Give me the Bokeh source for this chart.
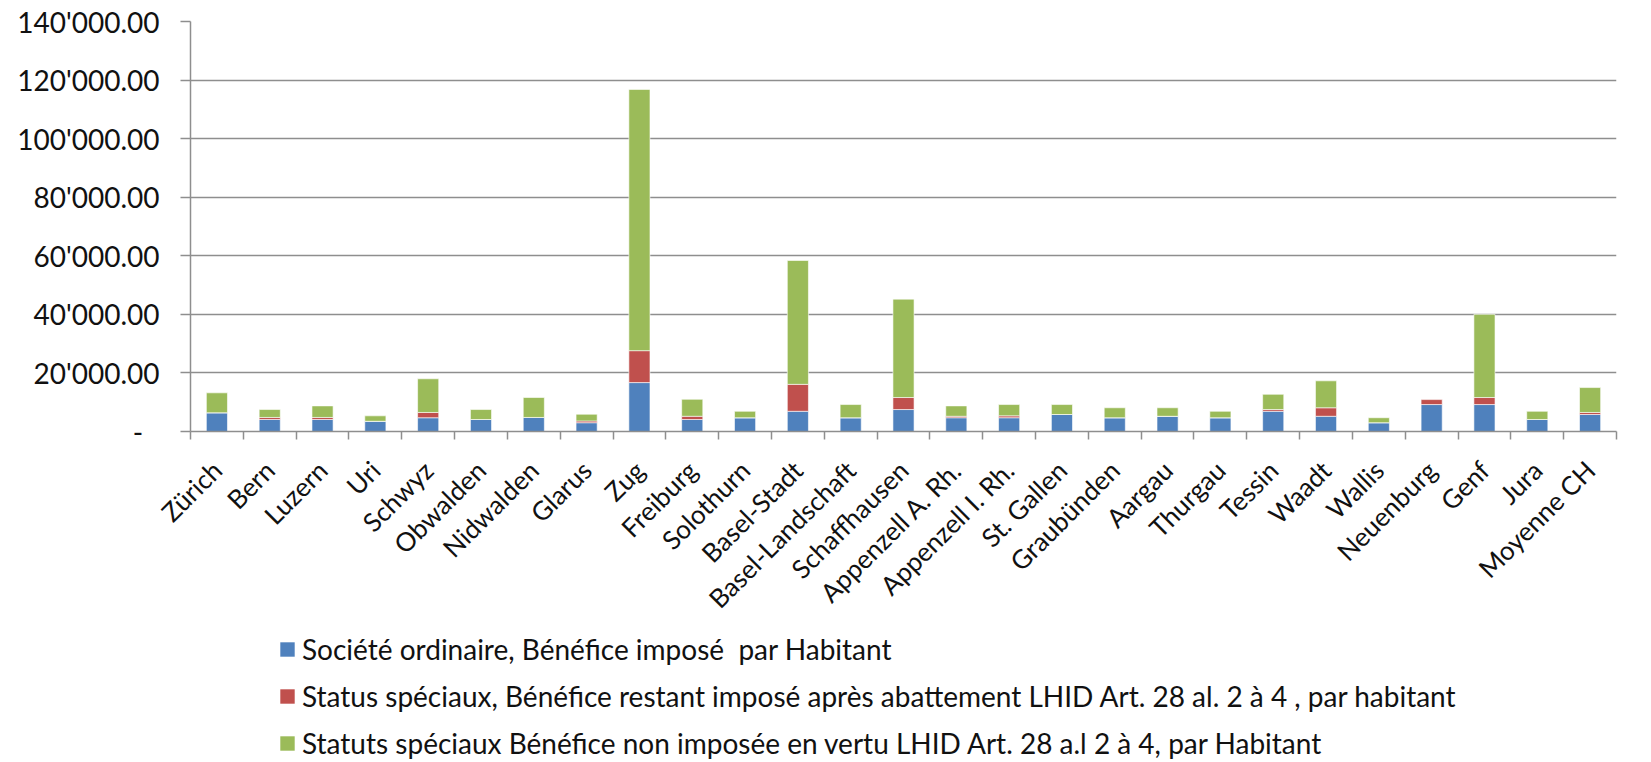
import math
from bokeh.plotting import figure
from bokeh.layouts import column
from bokeh.models import ColumnDataSource, Range1d, FixedTicker, Legend, LegendItem
from bokeh.embed import file_html
from bokeh.resources import INLINE

cantons = ["Zürich", "Bern", "Luzern", "Uri", "Schwyz", "Obwalden", "Nidwalden", "Glarus",
           "Zug", "Freiburg", "Solothurn", "Basel-Stadt", "Basel-Landschaft", "Schaffhausen",
           "Appenzell A. Rh.", "Appenzell I. Rh.", "St. Gallen", "Graubünden", "Aargau",
           "Thurgau", "Tessin", "Waadt", "Wallis", "Neuenburg", "Genf", "Jura", "Moyenne CH"]

ordinaire = [6400, 4100, 4100, 3500, 4700, 4100, 4800, 3000, 16700, 4100, 4700, 6900, 4700,
             7500, 4700, 4700, 5800, 4700, 5200, 4700, 6900, 5200, 3000, 9200, 9200, 4100, 5800]
speciaux_impose = [0, 700, 700, 0, 1800, 0, 0, 600, 10900, 1100, 0, 9200, 0,
                   4100, 500, 650, 0, 0, 0, 0, 600, 2900, 0, 1700, 2400, 0, 700]
speciaux_non_impose = [6800, 2700, 3950, 1850, 11500, 3400, 6800, 2300, 89200, 5800, 2200, 42300,
                       4500, 33600, 3550, 3850, 3400, 3400, 2900, 2200, 5200, 9200, 1700, -900,
                       28400, 2800, 8500]

series_names = [
    "Société ordinaire, Bénéfice imposé  par Habitant",
    "Status spéciaux, Bénéfice restant imposé après abattement LHID Art. 28 al. 2 à 4 , par habitant",
    "Statuts spéciaux Bénéfice non imposée en vertu LHID Art. 28 a.l 2 à 4, par Habitant",
]
series_values = [ordinaire, speciaux_impose, speciaux_non_impose]
colors = ["#4F81BD", "#C0504D", "#9BBB59"]

y_ticks = [0, 20000, 40000, 60000, 80000, 100000, 120000, 140000]

FONT = "Lato"
TXT = "#111111"
GRID = "#8e8e8e"
W = 1645

x = list(range(len(cantons)))

p = figure(width=W, height=632, output_backend="svg", toolbar_location=None,
           x_range=Range1d(-0.5, len(cantons) - 0.5), y_range=Range1d(0, 140000),
           min_border_left=190, min_border_right=W - 1616, min_border_top=21, min_border_bottom=201,
           background_fill_color="white", border_fill_color="white")
p.outline_line_color = None

# manual stacking (positive values upward, negative values downward, as in Excel)
pos = [0.0] * len(cantons)
neg = [0.0] * len(cantons)
for vals, col in zip(series_values, colors):
    bottoms, tops = [], []
    for i, v in enumerate(vals):
        if v >= 0:
            bottoms.append(pos[i]); tops.append(pos[i] + v); pos[i] += v
        else:
            tops.append(neg[i]); bottoms.append(neg[i] + v); neg[i] += v
    src = ColumnDataSource(dict(x=x, bottom=bottoms, top=tops))
    p.vbar(x="x", bottom="bottom", top="top", width=0.4, source=src,
           fill_color=col, line_color="white", line_width=0.6)

# axes
p.xgrid.visible = False
p.ygrid.ticker = FixedTicker(ticks=y_ticks)
p.ygrid.grid_line_color = GRID
p.ygrid.grid_line_width = 1.5

yax = p.yaxis[0]
yax.ticker = FixedTicker(ticks=y_ticks)
yax.major_label_overrides = {t: ("-\u2007" if t == 0 else f"{t:,.2f}".replace(",", "'")) for t in y_ticks}
yax.axis_line_color = GRID
yax.axis_line_width = 1.5
yax.major_tick_line_color = GRID
yax.major_tick_line_width = 1.5
yax.major_tick_out = 10
yax.major_tick_in = 0
yax.minor_tick_line_color = None
yax.major_label_text_font = FONT
yax.major_label_text_font_size = "28px"
yax.major_label_text_color = TXT
yax.major_label_standoff = 21

xax = p.xaxis[0]
xax.ticker = FixedTicker(ticks=x, minor_ticks=[i - 0.5 for i in range(len(cantons) + 1)])
xax.major_label_overrides = {i: name for i, name in enumerate(cantons)}
xax.major_label_orientation = math.pi / 4
xax.axis_line_color = GRID
xax.axis_line_width = 1.5
xax.major_tick_line_color = None
xax.major_tick_out = 0
xax.major_tick_in = 0
xax.minor_tick_line_color = GRID
xax.minor_tick_line_width = 1.5
xax.minor_tick_out = 8
xax.minor_tick_in = 0
xax.major_label_text_font = FONT
xax.major_label_text_font_size = "26px"
xax.major_label_text_color = TXT
xax.major_label_standoff = 26

# legend panel below the chart (its frame is aligned with the chart frame by the column layout)
pl = figure(width=W, height=128, output_backend="svg", toolbar_location=None,
            x_axis_location=None, y_axis_location=None,
            x_range=Range1d(0, 1), y_range=Range1d(0, 1),
            min_border_left=0, min_border_right=0, min_border_top=0, min_border_bottom=0,
            background_fill_color="white", border_fill_color="white")
pl.outline_line_color = None
pl.grid.visible = False
items = []
for name, col in zip(series_names, colors):
    # zero-height placeholder bar: only provides the legend swatch
    r = pl.vbar(x="x", top="top", bottom="bottom", width=0.0,
                source=ColumnDataSource(dict(x=[0.5], top=[0.0], bottom=[0.0])),
                fill_color=col, line_color=None)
    items.append(LegendItem(label=name, renderers=[r]))

legend = Legend(items=items, location=(88, 0), orientation="vertical",
                glyph_width=18, glyph_height=18, label_standoff=6,
                label_text_font=FONT, label_text_font_size="28px", label_text_color=TXT,
                label_height=28, spacing=13, padding=0, margin=0,
                border_line_color=None, background_fill_alpha=0)
pl.add_layout(legend, "center")

layout = column(p, pl, spacing=0)
open("out.html", "w").write(file_html(layout, INLINE))
